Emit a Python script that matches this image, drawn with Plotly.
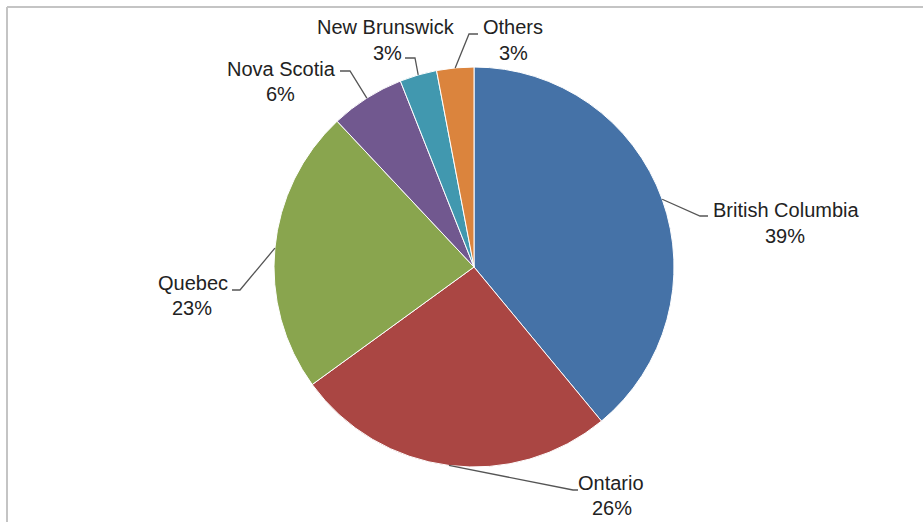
import math
import plotly.graph_objects as go

# Share of total by province
provinces = ["British Columbia", "Ontario", "Quebec", "Nova Scotia", "New Brunswick", "Others"]
shares = [39, 26, 23, 6, 3, 3]
colors = ["#4572A7", "#AA4643", "#89A54E", "#71588F", "#4198AF", "#DB843D"]

W, H = 923, 522
CX, CY, R = 474, 267, 200  # pie centre and radius in pixels

# Label layout (pixels): name centre, percent centre, leader elbow, leader tail end
label_layout = {
    "British Columbia": dict(name=(786, 210), pct=(785, 236), elbow=(700, 216), tail=(708, 216)),
    "Ontario": dict(name=(611, 483), pct=(612, 508), elbow=(573, 490), tail=(578, 490)),
    "Quebec": dict(name=(193, 283), pct=(192, 308), elbow=(240, 290), tail=(232, 290)),
    "Nova Scotia": dict(name=(281, 69), pct=(280, 94), elbow=(350, 71), tail=(340, 71)),
    "New Brunswick": dict(name=(386, 27), pct=(387, 53), elbow=(415, 58), tail=(405, 58)),
    "Others": dict(name=(513, 27), pct=(513, 53), elbow=(469, 34), tail=(478, 34)),
}


def px(x):
    return x / W


def py(y):
    return 1 - y / H


fig = go.Figure(
    go.Pie(
        labels=provinces,
        values=shares,
        sort=False,
        direction="clockwise",
        rotation=0,
        marker=dict(colors=colors, line=dict(color="white", width=1)),
        textinfo="none",
        hoverinfo="label+percent",
        showlegend=False,
        domain=dict(x=[px(CX - R), px(CX + R)], y=[py(CY + R), py(CY - R)]),
    )
)

shapes = []
annotations = []
total = sum(shares)
cum = 0
font = dict(family="Liberation Sans, Arial, sans-serif", size=20, color="#222222")
for name, val in zip(provinces, shares):
    mid = (cum + val / 2) / total * 2 * math.pi
    cum += val
    ex = CX + R * math.sin(mid)
    ey = CY - R * math.cos(mid)
    lay = label_layout[name]
    (bx, by), (tx, ty) = lay["elbow"], lay["tail"]
    shapes.append(dict(type="path", xref="paper", yref="paper",
                       path=f"M {px(ex)} {py(ey)} L {px(bx)} {py(by)} L {px(tx)} {py(ty)}",
                       line=dict(color="#555555", width=1.3)))
    annotations.append(dict(x=px(lay["name"][0]), y=py(lay["name"][1]), xref="paper", yref="paper",
                            text=name, showarrow=False, font=font, xanchor="center", yanchor="middle"))
    annotations.append(dict(x=px(lay["pct"][0]), y=py(lay["pct"][1]), xref="paper", yref="paper",
                            text=f"{round(val / total * 100)}%", showarrow=False, font=font,
                            xanchor="center", yanchor="middle"))

# Chart frame (top and left edges visible)
shapes.append(dict(type="line", xref="paper", yref="paper", x0=px(7), y0=py(7), x1=1, y1=py(7),
                   line=dict(color="#c4c4c4", width=2)))
shapes.append(dict(type="line", xref="paper", yref="paper", x0=px(7), y0=py(7), x1=px(7), y1=0,
                   line=dict(color="#c4c4c4", width=2)))

fig.update_layout(
    width=W,
    height=H,
    margin=dict(l=0, r=0, t=0, b=0),
    paper_bgcolor="white",
    plot_bgcolor="white",
    shapes=shapes,
    annotations=annotations,
)

fig.write_html("out.html", config={"displayModeBar": False})
